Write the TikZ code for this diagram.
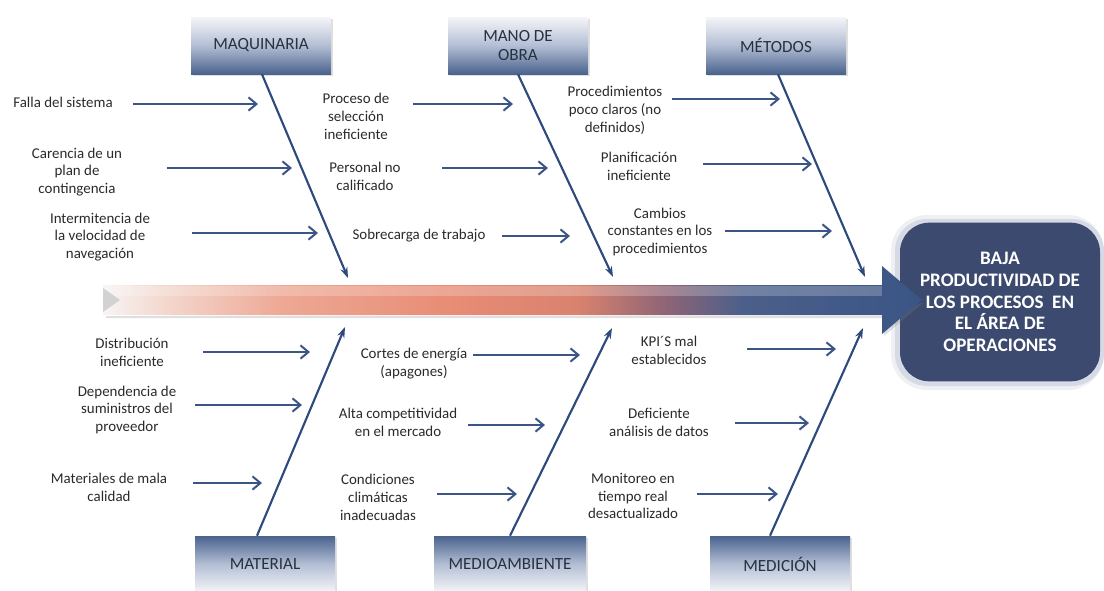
\documentclass[tikz,border=0pt]{standalone}
\usepackage{fontspec}
\setmainfont{Carlito}
\usetikzlibrary{arrows.meta,shadows,calc}

\definecolor{bonecol}{HTML}{2E4A7D}
\definecolor{arrcol}{HTML}{3A5586}
\definecolor{txtcol}{HTML}{2A2A2A}
\definecolor{cattxt}{HTML}{26323F}
\definecolor{headfill}{HTML}{3B4A6E}
\definecolor{headglow}{HTML}{8A98B8}
\definecolor{bxD}{HTML}{4A638E}
\definecolor{bxM}{HTML}{B3BED4}
\definecolor{bxL}{HTML}{F5F5F9}
\definecolor{spA}{HTML}{F7F4F3}
\definecolor{spB}{HTML}{F3D6CC}
\definecolor{spC}{HTML}{EDA894}
\definecolor{spD}{HTML}{E88D76}
\definecolor{spE}{HTML}{D9826E}
\definecolor{spF}{HTML}{8C6476}
\definecolor{spG}{HTML}{4C5F8A}
\definecolor{spH}{HTML}{3A5585}

\pgfdeclareverticalshading{topbox}{100bp}{color(0bp)=(bxD); color(25bp)=(bxD); color(50bp)=(bxM); color(75bp)=(bxL); color(100bp)=(bxL)}
\pgfdeclareverticalshading{botbox}{100bp}{color(0bp)=(bxL); color(25bp)=(bxL); color(50bp)=(bxM); color(75bp)=(bxD); color(100bp)=(bxD)}
\pgfdeclarehorizontalshading{spineshade}{100bp}{color(0bp)=(spA); color(25bp)=(spA); color(29bp)=(spB); color(36bp)=(spC); color(46bp)=(spD); color(54bp)=(spE); color(59.5bp)=(spF); color(64bp)=(spG); color(75bp)=(spH); color(100bp)=(spH)}

\tikzset{
  catbox/.style={minimum width=105pt, minimum height=42.75pt, inner sep=1pt,
    shading=topbox, text=cattxt, align=center,
    font=\fontsize{12.8}{14.5}\selectfont,
    drop shadow={opacity=0.25, shadow xshift=1.2pt, shadow yshift=-1.5pt}},
  catboxb/.style={catbox, shading=botbox},
  cause/.style={text=txtcol, align=center, inner sep=0pt,
    font=\fontsize{11.2}{13.4}\selectfont},
  carrow/.style={draw=arrcol, line width=1.6pt,
    -{Straight Barb[length=6pt, width=10pt, line width=1.5pt]}},
  bone/.style={draw=bonecol, line width=1.6pt,
    -{Stealth[length=8pt, width=5.5pt]}},
}

\begin{document}
\begin{tikzpicture}[x=0.75pt, y=-0.75pt]
\useasboundingbox (0,0) rectangle (1104,590);

% ---------- head box ----------
\fill[headglow, opacity=0.15, rounded corners=27pt] (891,215) rectangle (1104,390);
\fill[headglow, opacity=0.25, rounded corners=24pt] (895,219) rectangle (1104,386);
\node[fill=headfill, rounded corners=22pt, minimum width=150pt, minimum height=119pt,
  text=white, align=center, inner sep=0pt,
  font=\bfseries\fontsize{14.3}{16.3}\selectfont] (head) at (1000,302)
  {BAJA\\PRODUCTIVIDAD DE\\LOS PROCESOS~ EN\\EL ÁREA DE\\OPERACIONES};

% ---------- spine ----------
\fill[gray, opacity=0.25] (106,316) -- (884,316) -- (884,336) -- (924,302) -- (884,318) -- (106,318) -- cycle;
\shade[shading=spineshade] (103,285) -- (882,285) -- (882,266) -- (922,300)
  -- (882,334) -- (882,315) -- (103,315) -- cycle;
\fill[white, opacity=0.22] (103,286) -- (882,286) -- (882,296) -- (103,296) -- cycle;
\fill[gray!35] (103,288) -- (120,300) -- (103,312) -- cycle;

% ---------- category boxes ----------
\node[catbox] (maq) at (261,45.5) {MAQUINARIA};
\node[catbox] (mano) at (518,45.5) {MANO DE\\OBRA};
\node[catbox] (met) at (776,45.5) {MÉTODOS};
\node[catboxb, minimum height=42pt] (mat) at (265,564) {MATERIAL};
\node[catboxb, minimum height=42pt, minimum width=114pt] (medio) at (510,564) {MEDIOAMBIENTE};
\node[catboxb, minimum height=42pt] (medic) at (780,564) {MEDICIÓN};

% ---------- bones ----------
\coordinate (maqE) at (348,278);
\coordinate (manoE) at (613,277);
\coordinate (metE) at (865,277);
\coordinate (matE) at (345,327);
\coordinate (medioE) at (612,328);
\coordinate (medicE) at (863,328);
\draw[bone] ([xshift=0.75pt]maq.south) -- (maqE);
\draw[bone] (mano.south) -- (manoE);
\draw[bone] ([xshift=1.5pt]met.south) -- (metE);
\draw[bone] ([xshift=-6pt]mat.north) -- (matE);
\draw[bone] (medio.north) -- (medioE);
\draw[bone] ([xshift=-7.5pt]medic.north) -- (medicE);

% ---------- causes: top ----------
\node[cause] (c1) at (63,102) {Falla del sistema};
\node[cause] (c2) at (77,172) {Carencia de un\\plan de\\contingencia};
\node[cause] (c3) at (100,237) {Intermitencia de\\la velocidad de\\navegación};
\node[cause] (c4) at (356,116) {Proceso de\\selección\\ineficiente};
\node[cause] (c5) at (365,176) {Personal no\\calificado};
\node[cause] (c6) at (419,236) {Sobrecarga de trabajo};
\node[cause] (c7) at (615,110) {Procedimientos\\poco claros (no\\definidos)};
\node[cause] (c8) at (639,166) {Planificación\\ineficiente};
\node[cause] (c9) at (660,232) {Cambios\\constantes en los\\procedimientos};

% ---------- causes: bottom ----------
\node[cause] (c10) at (132,352) {Distribución\\ineficiente};
\node[cause] (c11) at (127,410) {Dependencia de\\suministros del\\proveedor};
\node[cause] (c12) at (109,487) {Materiales de mala\\calidad};
\node[cause] (c13) at (414,364) {Cortes de energía\\(apagones)};
\node[cause] (c14) at (398,422) {Alta competitividad\\en el mercado};
\node[cause] (c15) at (378,497) {Condiciones\\climáticas\\inadecuadas};
\node[cause] (c16) at (669,350) {KPI´S mal\\establecidos};
\node[cause] (c17) at (659,422) {Deficiente\\análisis de datos};
\node[cause] (c18) at (633,496) {Monitoreo en\\tiempo real\\desactualizado};

% ---------- cause arrows ----------
\foreach \n/\xa/\xb/\yy in {1/133/258/104, 2/167/292/168, 3/192/318/233,
  4/413/513/104, 5/442/548/168, 6/502/570/236,
  7/672/780/99, 8/703/812/164, 9/725/832/231,
  10/203/310/352, 11/195/302/405, 12/193/262/483,
  13/473/580/355, 14/468/545/425, 15/437/517/494,
  16/747/836/349, 17/735/809/423, 18/697/778/494}{
  \coordinate (s\n) at (\xa,\yy);
  \coordinate (e\n) at (\xb,\yy);
  \draw[carrow] (s\n) -- (e\n);
}
\end{tikzpicture}
\end{document}
